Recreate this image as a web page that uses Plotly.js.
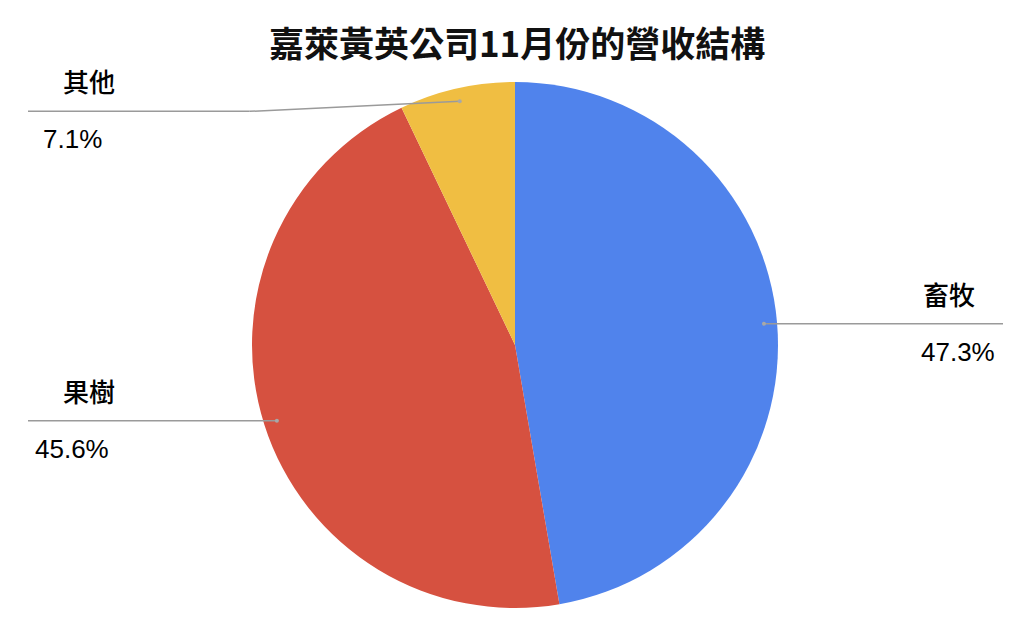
<!DOCTYPE html>
<html>
<head>
<meta charset="utf-8">
<script src="https://cdn.plot.ly/plotly-3.0.1.min.js"></script>
<style>
  html, body { margin: 0; padding: 0; background: #fff; }
  #chart { width: 1024px; height: 630px; }
</style>
</head>
<body>
<div id="chart"></div>
<script>
// ─── Data ─────────────────────────────────────────────────────────────────────
const categories = ['畜牧', '果樹', '其他'];
const shares     = [47.3, 45.6, 7.1];          // % of November revenue
const colors     = ['#5083EC', '#D65140', '#F0BE42'];
const titleText  = '嘉萊黃英公司11月份的營收結構';

// ─── Geometry (pixels, figure is 1024x630 with zero margins) ───────────────────
const W = 1024, H = 630;
const CX = 515, CY = 345, R = 263;
const DOT_R   = 0.95;                 // leader line starts at 95% of radius
const LEFT_X  = 28, RIGHT_X = 1003;   // leader line ends
const LABEL_GAP = 28;                 // name above / value below the line

const px = x => x / W;
const py = y => 1 - y / H;

const total = shares.reduce((a, b) => a + b, 0);
const shapes = [];
const annotations = [];

let acc = 0;
shares.forEach((v, i) => {
  const mid = (acc + v / 2) / total * 2 * Math.PI;  // clockwise from 12 o'clock
  acc += v;
  const x0 = CX + DOT_R * R * Math.sin(mid);
  const y0 = CY - DOT_R * R * Math.cos(mid);
  const right = Math.sin(mid) > 0;
  // labels near the top are pushed down a little so they clear the title
  const lineY = y0 < 150 ? y0 + 10 : y0;
  const xEnd = right ? RIGHT_X : LEFT_X;

  if (lineY !== y0) {
    const elbowX = x0 - 210;
    shapes.push({ type: 'line', xref: 'paper', yref: 'paper',
      x0: px(x0), y0: py(y0), x1: px(elbowX), y1: py(lineY),
      line: { color: '#9a9a9a', width: 1.5 } });
    shapes.push({ type: 'line', xref: 'paper', yref: 'paper',
      x0: px(elbowX), y0: py(lineY), x1: px(xEnd), y1: py(lineY),
      line: { color: '#9a9a9a', width: 1.5 } });
  } else {
    shapes.push({ type: 'line', xref: 'paper', yref: 'paper',
      x0: px(x0), y0: py(y0), x1: px(xEnd), y1: py(lineY),
      line: { color: '#9a9a9a', width: 1.5 } });
  }
  shapes.push({ type: 'circle', xref: 'paper', yref: 'paper',
    x0: px(x0 - 2), x1: px(x0 + 2), y0: py(y0 - 2), y1: py(y0 + 2),
    fillcolor: '#a8a8a8', line: { width: 0 } });

  const nameX = right ? 949 : 89;
  const valX  = right ? 958 : 72;
  const font = { family: 'Liberation Sans, Arial, "Noto Sans CJK TC", sans-serif', size: 26, color: '#000', weight: 500 };
  annotations.push({ xref: 'paper', yref: 'paper', x: px(nameX), y: py(lineY - LABEL_GAP),
    text: categories[i], showarrow: false, xanchor: 'center', yanchor: 'middle', font });
  annotations.push({ xref: 'paper', yref: 'paper', x: px(valX), y: py(lineY + LABEL_GAP),
    text: v.toFixed(1) + '%', showarrow: false, xanchor: 'center', yanchor: 'middle', font });
});

const trace = {
  type: 'pie',
  labels: categories,
  values: shares,
  marker: { colors, line: { width: 0 } },
  sort: false,
  direction: 'clockwise',
  rotation: 0,
  textinfo: 'none',
  hoverinfo: 'label+percent',
  domain: { x: [px(CX - R), px(CX + R)], y: [py(CY + R), py(CY - R)] },
};

const layout = {
  width: W, height: H,
  margin: { t: 0, b: 0, l: 0, r: 0 },
  paper_bgcolor: '#ffffff',
  showlegend: false,
  title: {
    text: '<b>' + titleText + '</b>',
    x: 0.505, y: py(45), xanchor: 'center', yanchor: 'middle',
    font: { family: '"Noto Sans CJK TC", "Liberation Sans", sans-serif', size: 35, color: '#111' },
  },
  shapes,
  annotations,
};

Plotly.newPlot('chart', [trace], layout, { displayModeBar: false, staticPlot: true });
</script>
</body>
</html>
